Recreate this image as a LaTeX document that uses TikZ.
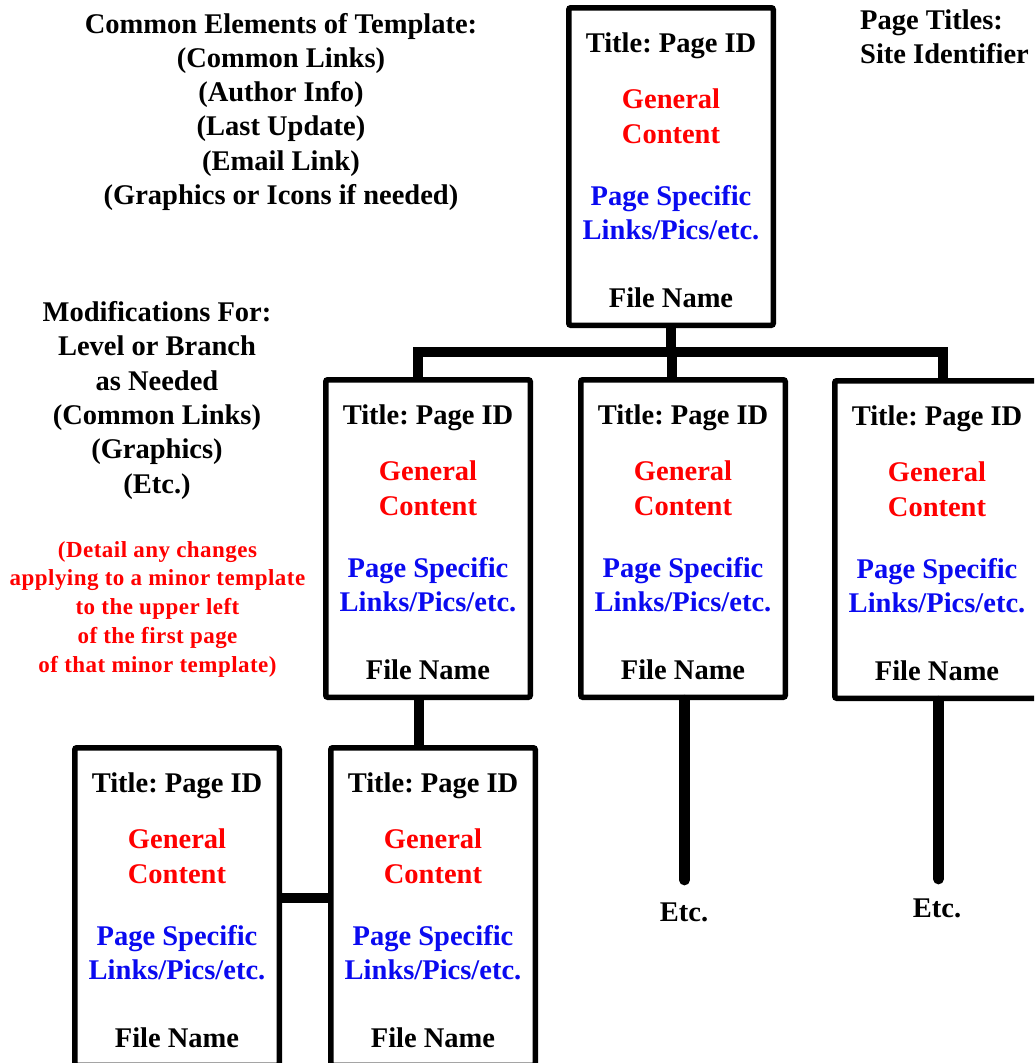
\documentclass[tikz,border=0pt]{standalone}
\usepackage{fontspec}
\setmainfont{Liberation Serif}
\newfontfamily\redspaced[LetterSpace=2]{Liberation Serif}
\usetikzlibrary{calc}
\frenchspacing
\definecolor{gcred}{RGB}{255,0,0}
\definecolor{psblue}{RGB}{10,10,240}
\tikzset{
  pbox/.style={draw, line width=5.5pt, minimum width=204.5pt, minimum height=317.5pt,
    inner sep=0pt, outer sep=2.75pt, anchor=north, rounded corners=2pt},
  btxt/.style={font=\bfseries\fontsize{28.5}{34.3}\selectfont, inner sep=0pt, anchor=base},
  blk/.style={font=\bfseries\fontsize{28.5}{34.3}\selectfont, inner sep=0pt, align=center, anchor=base},
  redblk/.style={font=\redspaced\bfseries\fontsize{23}{28.9}\selectfont, text=gcred, inner sep=0pt, align=center, anchor=base},
  link/.style={line width=10pt, line join=miter},
  stem/.style={line width=10.5pt, line cap=round},
}
\newcommand\pagebox[3]{%
  \node[pbox] (#1) at (#2,#3) {};
  \node[btxt] (#1-t) at ($(#1.north)+(0,47.7)$) {Title: Page ID};
  \node[btxt, text=gcred] (#1-g) at ($(#1.north)+(0,103.3)$) {General};
  \node[btxt, text=gcred] (#1-c) at ($(#1.north)+(0,138.3)$) {Content};
  \node[btxt, text=psblue] (#1-p) at ($(#1.north)+(0,200)$) {Page Specific};
  \node[btxt, text=psblue] (#1-l) at ($(#1.north)+(0,234.3)$) {Links/Pics/etc.};
  \node[btxt] (#1-f) at ($(#1.north)+(0,302.3)$) {File Name};
}
\begin{document}
\begin{tikzpicture}[x=1pt,y=-1pt]
\useasboundingbox (0,0) rectangle (1034,1063);
\clip (0,0) rectangle (1034,1063);

% side texts (anchor base = baseline of the last line)
\node[blk] (common) at (281,204.5) {Common Elements of Template:\\(Common Links)\\(Author Info)\\(Last Update)\\(Email Link)\\(Graphics or Icons if needed)};
\node[blk, align=left, anchor=base west] (titles) at (860,63.3) {Page Titles:\\Site Identifier};
\node[blk] (mods) at (157,493) {Modifications For:\\Level or Branch\\as Needed\\(Common Links)\\(Graphics)\\(Etc.)};
\node[redblk] (detail) at (157.5,672.6) {(Detail any changes\\applying to a minor template\\to the upper left\\of the first page\\of that minor template)};

% page boxes
\pagebox{T}{671}{5}
\pagebox{A}{428}{377}
\pagebox{B}{683}{377}
\pagebox{C}{937}{378}
\pagebox{D}{177}{745}
\pagebox{E}{433}{745}

% connectors
\coordinate (bar) at (672,352);
\coordinate (dejoin) at (300,897.5);
\draw[link] (T.south) -- (T.south |- bar);
\draw[link] ([xshift=-10.5pt]A.north) |- (bar) -| ([xshift=6pt]C.north);
\draw[link] (bar) -- (bar |- B.north);
\draw[link] ([xshift=-9pt]A.south) -- ([xshift=-9pt]A.south |- E.north);
\draw[link] (D.east |- dejoin) -- (E.west |- dejoin);

\node[btxt] (eB) at (684,921) {Etc.};
\node[btxt] (eC) at (937,917) {Etc.};
\draw[stem, shorten >=22pt] ([xshift=1.5pt]B.south) -- ([xshift=1.5pt]B.south |- eB.north);
\draw[stem, shorten >=19pt] ([xshift=1.5pt]C.south) -- ([xshift=1.5pt]C.south |- eC.north);
\end{tikzpicture}
\end{document}
